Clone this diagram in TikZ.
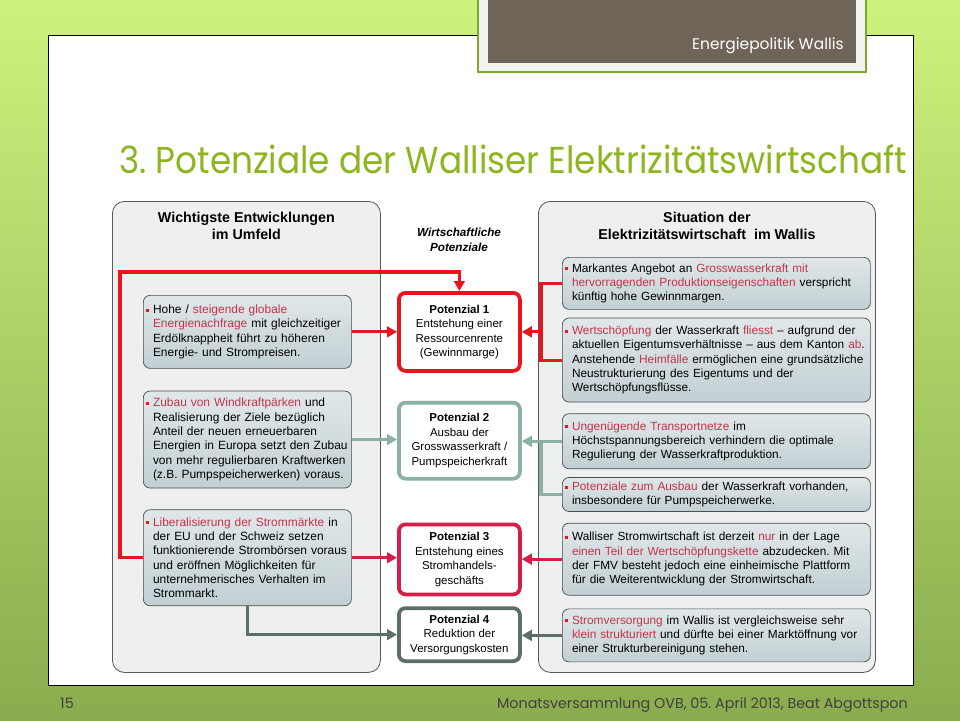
\documentclass[tikz,border=0pt]{standalone}
\usepackage{fontspec}
\setmainfont{Liberation Sans}
\newfontfamily\slidefont{Poppins}
\newfontfamily\titlefont[FakeStretch=0.915]{Poppins}
\usetikzlibrary{positioning}
\usetikzlibrary{arrows.meta}

\definecolor{bgtop}{RGB}{205,242,125}
\definecolor{bgbot}{RGB}{138,172,78}
\definecolor{tabbrown}{RGB}{110,101,88}
\definecolor{tabgreen}{RGB}{128,166,38}
\definecolor{titlegreen}{RGB}{141,181,30}
\definecolor{potred}{RGB}{232,22,28}
\definecolor{potsage}{RGB}{140,176,164}
\definecolor{potcrimson}{RGB}{212,32,72}
\definecolor{potslate}{RGB}{92,110,104}
\definecolor{hlred}{RGB}{194,52,76}
\definecolor{panelgray}{RGB}{238,240,240}
\definecolor{boxtop}{RGB}{224,231,233}
\definecolor{boxbot}{RGB}{194,208,211}

\newcommand{\hilite}[1]{\textcolor{hlred}{#1}}
% hanging bullet, the text lines stay flush
\newcommand{\bul}[1]{\leftskip=2.6mm\relax\leavevmode\llap{\textcolor{potred}{\rule[0.3ex]{0.9mm}{0.9mm}}\hspace{1.3mm}}#1\par}
\frenchspacing

\begin{document}
\begin{tikzpicture}[
        x = 0.3mm,
        y = -0.3mm,
        panel/.style = {
            draw=black!65,
            fill=panelgray,
            rounded corners=3.6mm,
            line width=0.7pt,
            minimum height=141.3mm,
            anchor=north west
        },
        info/.style = {
            draw=black!70,
            rounded corners=2mm,
            line width=0.6pt,
            top color=boxtop,
            bottom color=boxbot,
            text width=#1,
            inner xsep=0.3mm,
            align=left,
            font=\fontsize{10.2}{12.2}\selectfont,
            anchor=north west
        },
        info/.default = 61.8mm,
        wide/.style = {
            info=91.8mm,
            font=\fontsize{10.1}{12.2}\selectfont
        },
        pot/.style = {
            draw=#1,
            line width=3.2pt,
            rounded corners=2mm,
            fill=white,
            minimum width=36.3mm,
            align=center,
            font=\fontsize{9.8}{12.4}\selectfont,
            anchor=north west
        },
        link/.style = {draw=#1, line width=2.6pt, -{Triangle[length=3mm, width=3.2mm]}},
        bus/.style = {draw=#1, line width=2.6pt}
    ]
    % slide
    \fill[top color=bgtop, bottom color=bgbot] (0,0) rectangle (960,720);
    \useasboundingbox (0,0) rectangle (960,720);
    \draw[fill=white, line width=0.6pt] (48,35) rectangle (913,685);
    \filldraw[fill=black!5, draw=tabgreen, line width=1.5pt] (478,-5) rectangle (866,72);
    \fill[tabbrown] (488,-5) rectangle (856,63);
    \node[anchor=base east, inner sep=0pt, text=white, font=\slidefont\fontsize{13.2}{15}\selectfont] (tab) at (844,49) {Energiepolitik Wallis};
    \node[anchor=base west, inner sep=0pt, text=titlegreen, font=\titlefont\fontsize{32}{36}\selectfont] (title) at (119,173) {3. Potenziale der Walliser Elektrizitätswirtschaft};
    \node[anchor=base west, inner sep=0pt, text=black!75, font=\slidefont\fontsize{12.2}{14}\selectfont] (pagenum) at (60,708) {15};
    \node[anchor=base east, inner sep=0pt, text=black!75, font=\slidefont\fontsize{12.2}{14}\selectfont] (footer) at (908,708) {Monatsversammlung OVB, 05. April 2013, Beat Abgottspon};

    % columns
    \node[panel, minimum width=80.4mm] (leftpanel) at (112,201) {};
    \node[panel, minimum width=101.1mm] (rightpanel) at (538,201) {};
    \node[below=2.1mm of leftpanel.north, align=center, font=\bfseries\fontsize{12.2}{14.5}\selectfont] (lefttitle) {Wichtigste Entwicklungen\\im Umfeld};
    \node[below=2.1mm of rightpanel.north, align=center, font=\bfseries\fontsize{12.2}{14.5}\selectfont] (righttitle) {Situation der\\Elektrizitätswirtschaft~ im Wallis};
    \node[anchor=north, align=center, font=\bfseries\itshape\fontsize{10}{12.8}\selectfont] (midtitle) at (459,224) {Wirtschaftliche\\Potenziale};

    \node[info, minimum height=21.9mm] (l1) at (143,295) {\bul{Hohe / \hilite{steigende globale}\\\hilite{Energienachfrage} mit gleichzeitiger\\Erdölknappheit führt zu höheren\\Energie- und Strompreisen.}};
    \node[info, minimum height=29.1mm, below=6.6mm of l1] (l2) {\bul{\hilite{Zubau von Windkraftpärken} und\\Realisierung der Ziele bezüglich\\Anteil der neuen erneuerbaren\\Energien in Europa setzt den Zubau\\von mehr regulierbaren Kraftwerken\\(z.B. Pumpspeicherwerken) voraus.}};
    \node[info, minimum height=28.8mm, below=6.3mm of l2] (l3) {\bul{\hilite{Liberalisierung der Strommärkte} in\\der EU und der Schweiz setzen\\funktionierende Strombörsen voraus\\und eröffnen Möglichkeiten für\\unternehmerisches Verhalten im\\Strommarkt.}};

    \node[pot=potred, minimum height=23.4mm] (p1) at (397,291) {\textbf{Potenzial 1}\\Entstehung einer\\Ressourcenrente\\(Gewinnmarge)};
    \node[pot=potsage, minimum height=22.8mm, below=8.4mm of p1] (p2) {\textbf{Potenzial 2}\\Ausbau der\\Grosswasserkraft /\\Pumpspeicherkraft};
    \node[pot=potcrimson, minimum height=21mm, below=12.6mm of p2] (p3) {\textbf{Potenzial 3}\\Entstehung eines\\Stromhandels-\\geschäfts};
    \node[pot=potslate, minimum height=15.9mm, below=3mm of p3] (p4) {\textbf{Potenzial 4}\\Reduktion der\\Versorgungskosten};

    \node[wide, minimum height=15.6mm] (r1) at (562,257) {\bul{Markantes Angebot an \hilite{Grosswasserkraft mit}\\\hilite{hervorragenden Produktionseigenschaften} verspricht\\künftig hohe Gewinnmargen.}};
    \node[wide, minimum height=25.2mm, below=2.4mm of r1] (r2) {\bul{\hilite{Wertschöpfung} der Wasserkraft \hilite{fliesst} -- aufgrund der\\aktuellen Eigentumsverhältnisse -- aus dem Kanton \hilite{ab}.\\Anstehende \hilite{Heimfälle} ermöglichen eine grundsätzliche\\Neustrukturierung des Eigentums und der\\Wertschöpfungsflüsse.}};
    \node[wide, minimum height=16.5mm, below=3.3mm of r2] (r3) {\bul{\hilite{Ungenügende Transportnetze} im\\Höchstspannungsbereich verhindern die optimale\\Regulierung der Wasserkraftproduktion.}};
    \node[wide, minimum height=10.2mm, below=2.4mm of r3] (r4) {\bul{\hilite{Potenziale zum Ausbau} der Wasserkraft vorhanden,\\insbesondere für Pumpspeicherwerke.}};
    \node[wide, minimum height=21.6mm, below=3.3mm of r4] (r5) {\bul{Walliser Stromwirtschaft ist derzeit \hilite{nur} in der Lage\\\hilite{einen Teil der Wertschöpfungskette} abzudecken. Mit\\der FMV besteht jedoch eine einheimische Plattform\\für die Weiterentwicklung der Stromwirtschaft.}};
    \node[wide, minimum height=15.9mm, below=3.9mm of r5] (r6) {\bul{\hilite{Stromversorgung} im Wallis ist vergleichsweise sehr\\\hilite{klein strukturiert} und dürfte bei einer Marktöffnung vor\\einer Strukturbereinigung stehen.}};

    % connectors
    \coordinate (redbus) at (120,272);
    \coordinate (rbus) at (541,0);
    \draw[link=potred] (l3.west) -| (redbus) -| (p1.north);
    \draw[link=potred] (l1.east) -- (l1.east -| p1.west);
    \draw[link=potsage] (l2.east) -- (l2.east -| p2.west);
    \draw[link=potcrimson] (l3.east) -- (l3.east -| p3.west);
    \draw[link=potslate] (l3.south) |- (p4.west);

    \draw[bus=potred] (r1.west) -- (r1.west -| rbus) |- (r2.west);
    \draw[link=potred] (p1.east -| rbus) -- (p1.east);
    \draw[bus=potsage] (r3.west) -- (r3.west -| rbus) |- (r4.west);
    \draw[link=potsage] (r3.west) -- (r3.west -| p2.east);
    \draw[link=potcrimson] (r5.west) -- (r5.west -| p3.east);
    \draw[link=potslate] (r6.west) -- (r6.west -| p4.east);
\end{tikzpicture}
\end{document}
